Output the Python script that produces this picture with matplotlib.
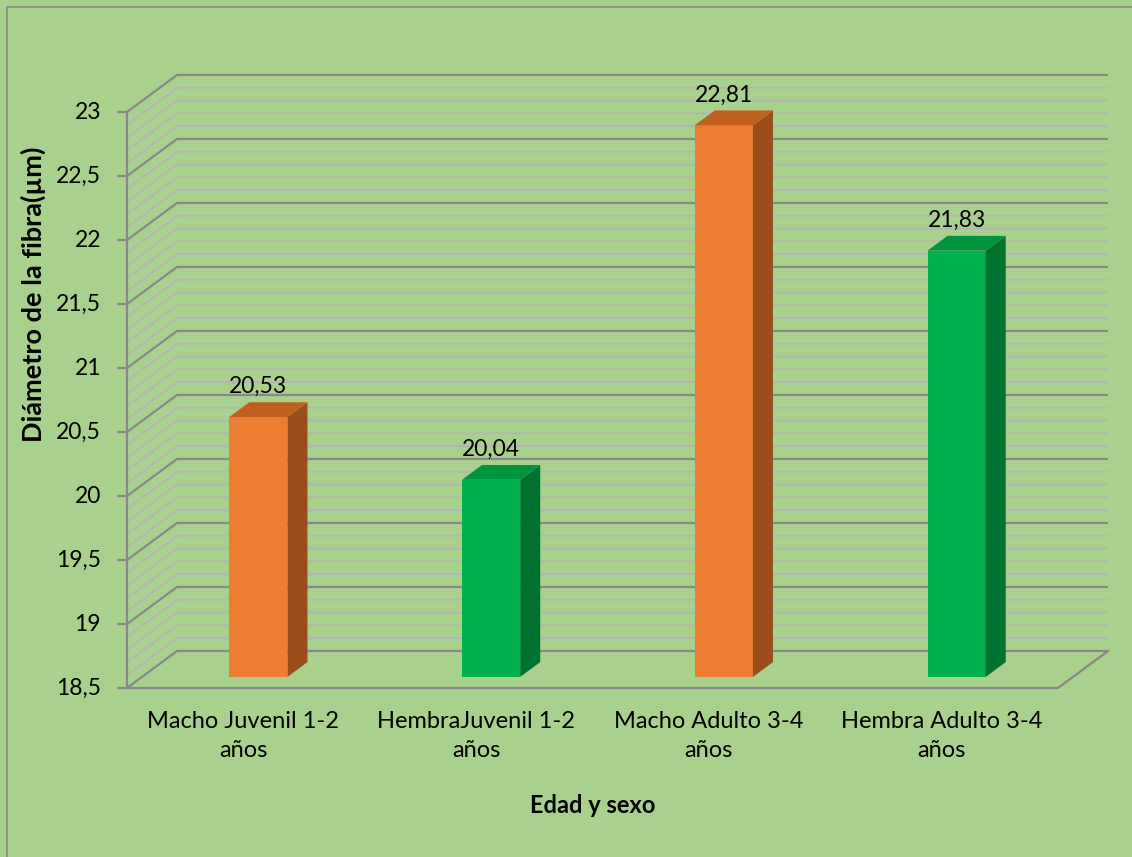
import numpy as np
import matplotlib
matplotlib.use("Agg")
from matplotlib import pyplot as plt
from matplotlib.patches import Polygon

# data
categories = ["Macho Juvenil 1-2\naños", "HembraJuvenil 1-2\naños",
              "Macho Adulto 3-4\naños", "Hembra Adulto 3-4\naños"]
values = [20.53, 20.04, 22.81, 21.83]
labels = ["20,53", "20,04", "22,81", "21,83"]
yticks = [18.5, 19, 19.5, 20, 20.5, 21, 21.5, 22, 22.5, 23]
ytick_labels = ["18,5", "19", "19,5", "20", "20,5", "21", "21,5", "22", "22,5", "23"]

plt.rcParams['font.family'] = ['Lato', 'DejaVu Sans']

W, H = 1132, 857
fig = plt.figure(figsize=(W / 100, H / 100), dpi=100)
fig.patch.set_facecolor("#a9d18e")
ax = fig.add_axes([0, 0, 1, 1])
ax.set_axis_off()

# front plane: x 0..4 spans px 127..1058, y 18.5..23 spans px 688..112
px_x = (1058 - 127) / 4
px_y = (688 - 112) / 4.5
ax.set_xlim(-127 / px_x, (W - 127) / px_x)
ax.set_ylim(18.5 - (H - 688) / px_y, 18.5 + 688 / px_y)

ymin, ymax = 18.5, 23
n = len(values)
DX = 50 / px_x   # depth offset of the back wall
DY = 37 / px_y

major_c = "#888888"
minor_c = "#b4b4b4"

# gridlines on side and back walls
for v in np.arange(ymin, ymax + 0.001, 0.1):
    is_major = abs(v * 2 - round(v * 2)) < 1e-6
    c = major_c if is_major else minor_c
    lw = 1.6 if is_major else 1.2
    ax.plot([0, DX, n + DX], [v, v + DY, v + DY], color=c, lw=lw,
            zorder=3 if is_major else 2, solid_capstyle="butt")

# floor
ax.plot([0, n, n + DX], [ymin, ymin, ymin + DY], color=major_c, lw=1.6, zorder=3)

# front vertical axis + ticks
ax.plot([0, 0], [ymin, ymax], color=major_c, lw=1.6, zorder=3)
tick_len = 9 / px_x
for t, lab in zip(yticks, ytick_labels):
    ax.plot([-tick_len, 0], [t, t], color=major_c, lw=1.6, zorder=3)
    ax.text(-26 / px_x, t, lab, ha="right", va="center", fontsize=16.5, color="black")

# 3D bars
colors = [("#ed7d31", "#9a4e1c", "#c0601f"), ("#00b050", "#00722f", "#00943f"),
          ("#ed7d31", "#9a4e1c", "#c0601f"), ("#00b050", "#00722f", "#00943f")]
hw = 0.125
d0, d1 = 0.3, 0.7
for i, (v, lab) in enumerate(zip(values, labels)):
    front, side, top = colors[i]
    c = i + 0.5
    x0 = c - hw + d0 * DX
    x1 = c + hw + d0 * DX
    yb = ymin + d0 * DY
    yt = v + d0 * DY
    ddx = (d1 - d0) * DX
    ddy = (d1 - d0) * DY
    ax.add_patch(Polygon([(x0, yb), (x1, yb), (x1, yt), (x0, yt)],
                         closed=True, facecolor=front, edgecolor="none", zorder=5))
    ax.add_patch(Polygon([(x1, yb), (x1 + ddx, yb + ddy), (x1 + ddx, yt + ddy), (x1, yt)],
                         closed=True, facecolor=side, edgecolor="none", zorder=5))
    ax.add_patch(Polygon([(x0, yt), (x1, yt), (x1 + ddx, yt + ddy), (x0 + ddx, yt + ddy)],
                         closed=True, facecolor=top, edgecolor="none", zorder=5))
    ax.text((x0 + x1) / 2, yt + ddy + 5 / px_y, lab, ha="center", va="bottom",
            fontsize=16.5, color="black", zorder=6)

# category labels
for i, cat in enumerate(categories):
    ax.text(i + 0.5, ymin - 23 / px_y, cat, ha="center", va="top", fontsize=17,
            linespacing=1.45, color="black")

ax.text(2, ymin - 117 / px_y, "Edad y sexo", ha="center", va="center",
        fontsize=17, fontweight="bold")
ax.text(-94 / px_x, ymin + (688 - 294) / px_y, "Diámetro de la fibra(µm)", ha="center",
        va="center", rotation=90, fontsize=19.5, fontweight="bold")

# chart border (left and top visible)
ax.plot([-120.5 / px_x, -120.5 / px_x, (W - 127) / px_x],
        [ymin - (H - 688) / px_y, ymin + (688 - 6.5) / px_y, ymin + (688 - 6.5) / px_y],
        color="#8a8a8a", lw=1.2, zorder=1)

plt.savefig("out.png", dpi=100, facecolor=fig.get_facecolor())
